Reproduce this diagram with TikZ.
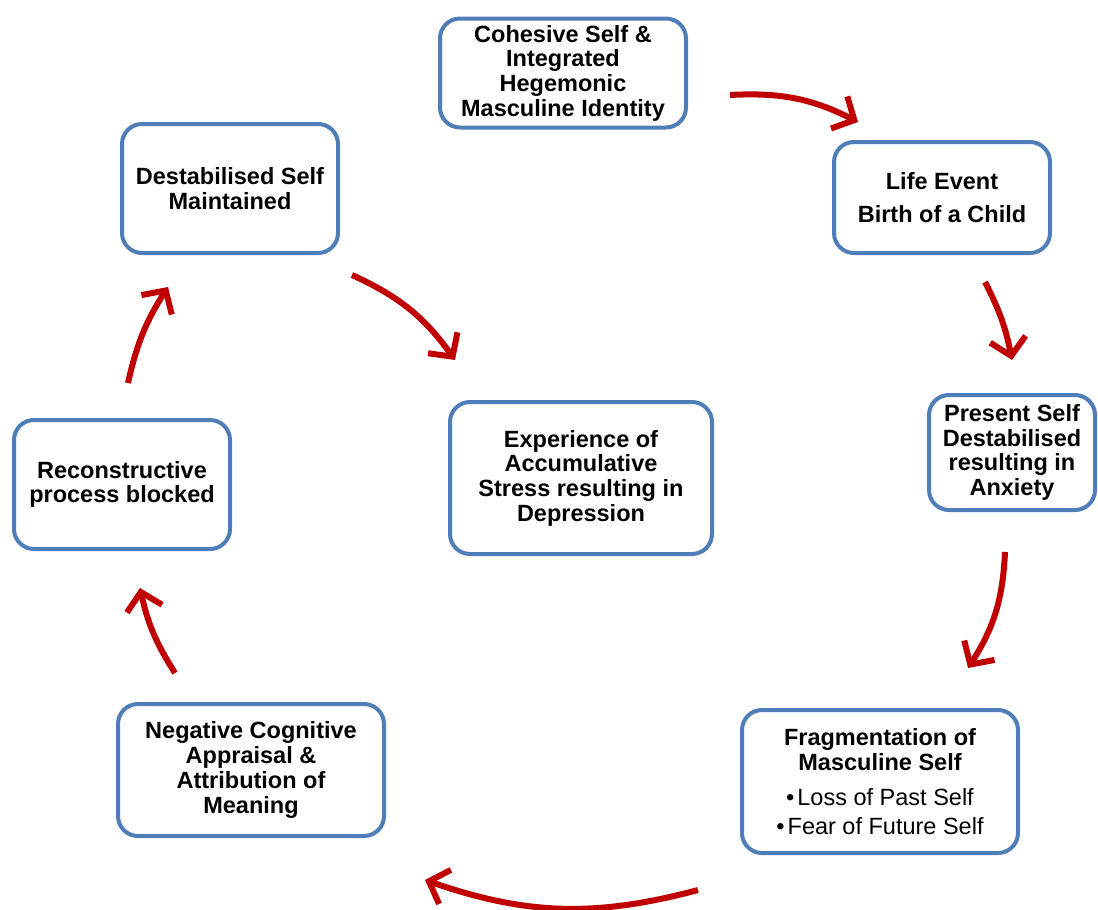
\documentclass[tikz,border=0pt]{standalone}
\usepackage{fontspec}
\setmainfont{Liberation Sans}
\usetikzlibrary{arrows.meta}
\definecolor{boxblue}{HTML}{4F7DB8}
\definecolor{arrred}{HTML}{C00000}
\begin{document}
\begin{tikzpicture}[x=1pt,y=1pt,
  box/.style={draw=boxblue, line width=4pt, rounded corners=20pt, fill=white,
    align=center, inner sep=0pt, font=\fontsize{23.5}{24.7}\selectfont\bfseries},
  flow/.style={draw=arrred, line width=6pt, -{Straight Barb[length=17pt,width=36pt]}, bend left=15}]
\useasboundingbox (0,0) rectangle (1098,-910);

\node[box, minimum width=246, minimum height=109] (cohesive) at (563,-73)
  {Cohesive Self \&\\Integrated\\Hegemonic\\Masculine Identity};
\node[box, minimum width=216, minimum height=111] (life) at (942,-197.5)
  {Life Event\\[8pt]Birth of a Child};
\node[box, minimum width=166, minimum height=115] (present) at (1012,-452.5)
  {Present Self\\Destabilised\\resulting in\\Anxiety};
\node[box, minimum width=276, minimum height=143] (frag) at (880,-781.5)
  {Fragmentation of\\Masculine Self\\[11pt]{\mdseries \textbullet\hspace{3pt}Loss of Past Self}\\[4pt]{\mdseries \textbullet\hspace{3pt}Fear of Future Self}};
\node[box, minimum width=266, minimum height=132] (negative) at (251,-770)
  {Negative Cognitive\\Appraisal \&\\Attribution of\\Meaning};
\node[box, minimum width=216, minimum height=129] (recon) at (122,-484.5)
  {Reconstructive\\process blocked};
\node[box, minimum width=216, minimum height=129] (destab) at (230,-188.5)
  {Destabilised Self\\Maintained};
\node[box, minimum width=262, minimum height=152] (exper) at (581,-478)
  {Experience of\\Accumulative\\Stress resulting in\\Depression};

\coordinate (a1s) at (730,-95);   \coordinate (a1e) at (858,-122);
\coordinate (a2s) at (985,-282);  \coordinate (a2e) at (1012,-360);
\coordinate (a3s) at (1005,-552); \coordinate (a3e) at (968,-668);
\coordinate (a4s) at (698,-890);  \coordinate (a4e) at (425,-880);
\coordinate (a5s) at (175,-673);  \coordinate (a5e) at (140,-588);
\coordinate (a6s) at (128,-383);  \coordinate (a6e) at (168,-287);
\coordinate (a7s) at (352,-275);  \coordinate (a7e) at (455,-360);

\draw[flow] (a1s) to (a1e);
\draw[flow, bend left=8] (a2s) to (a2e);
\draw[flow] (a3s) to (a3e);
\draw[flow, bend left=17] (a4s) to (a4e);
\draw[flow, bend left=10] (a5s) to (a5e);
\draw[flow, bend left=10] (a6s) to (a6e);
\draw[flow] (a7s) to (a7e);
\end{tikzpicture}
\end{document}
